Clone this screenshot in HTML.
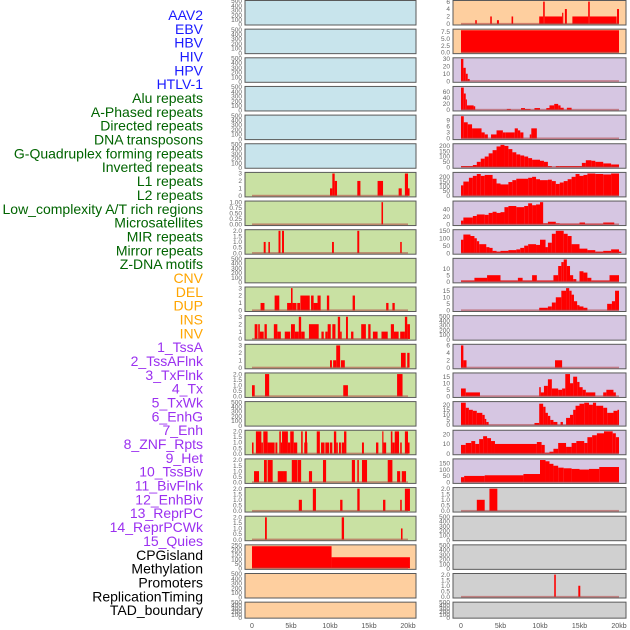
<!DOCTYPE html>
<html><head><meta charset="utf-8">
<style>
html,body{margin:0;padding:0;background:#fff;}
svg{display:block;font-family:"Liberation Sans",sans-serif;}
</style></head>
<body>
<svg id="chart" width="630" height="630" viewBox="0 0 630 630" xmlns="http://www.w3.org/2000/svg"></svg>
<script>
const labelNames=["AAV2","EBV","HBV","HIV","HPV","HTLV-1","Alu repeats","A-Phased repeats","Directed repeats","DNA transposons","G-Quadruplex forming repeats","Inverted repeats","L1 repeats","L2 repeats","Low_complexity A/T rich regions","Microsatellites","MIR repeats","Mirror repeats","Z-DNA motifs","CNV","DEL","DUP","INS","INV","1_TssA","2_TssAFlnk","3_TxFlnk","4_Tx","5_TxWk","6_EnhG","7_Enh","8_ZNF_Rpts","9_Het","10_TssBiv","11_BivFlnk","12_EnhBiv","13_ReprPC","14_ReprPCWk","15_Quies","CPGisland","Methylation","Promoters","ReplicationTiming","TAD_boundary"];
const xTickLabels=["0","5kb","10kb","15kb","20kb"];
const xTickValues=[0,5,10,15,20];
const emptyTicks=["0","100","200","300","400","500"];
const t3=["0","1","2","3"];
const t2=["0.0","0.5","1.0","1.5","2.0"];
// left column segments [startKb,endKb,value]
const L6=[[10,10.3,1],[10.3,10.6,3],[10.6,10.9,2],[13.5,13.9,2],[16.1,16.8,2],[18.8,19.2,1],[19.6,20,3],[20,20.2,1]];
const L7=[[16.6,16.8,1]];
const L7t=["0.00","0.25","0.50","0.75","1.00"];
const L8=[[1.5,1.75,1],[2.1,2.3,1],[3.4,3.65,2],[3.85,4.1,2],[10.26,10.5,1],[13.5,13.75,2],[19,19.2,1]];
const L10=[[1.1,1.6,1],[2.9,3.5,2],[4.5,5,1],[5,5.2,3],[5.2,5.7,1],[5.8,6.16,1],[6.2,7.4,2],[7.57,7.9,2],[7.9,8.4,1],[8.4,8.8,2],[9.6,9.9,2],[12.9,13.2,2],[17.2,17.5,1],[18,18.3,1]];
const L11=[[0.34,0.7,2],[0.8,1,2],[1,1.5,1],[1.6,1.9,2],[2.8,3.25,2],[3.25,3.7,1],[4.2,4.9,1],[5,5.5,2],[5.5,6,1],[6,6.3,3],[6.3,6.75,1],[7.3,8.55,2],[8.9,9.2,1],[9.4,9.7,1],[9.7,10.1,2],[10.3,10.7,2],[11,11.3,3],[11.3,11.5,1],[12.05,12.3,3],[12.7,13,1],[14,14.6,2],[14.9,15.2,2],[15.5,16.1,1],[16.6,17.4,1],[17.8,18.2,2],[18.2,18.8,1],[19,19.6,1],[19.6,19.9,3],[19.9,20.25,2]];
const L12=[[10,10.25,1],[10.4,10.8,1],[10.8,11.3,3],[11.4,11.9,1],[19.1,19.7,2],[19.9,20.2,2]];
const L13=[[0,0.35,1],[1.67,2.2,2],[11.7,12.3,1],[18.6,19.3,2]];
const L15=[[0,0.2,1],[0.5,1.2,2],[1.2,1.4,1],[1.45,2,2],[2,2.9,1],[3,3.25,1],[3.5,3.7,2],[3.7,3.85,1],[3.85,4.6,2],[4.6,4.9,1],[4.9,5.35,2],[5.35,5.8,1],[6.3,6.5,2],[6.7,7.1,1],[6.8,7.05,2],[8.3,8.7,2],[8.85,9.3,1],[9.4,9.9,1],[10,10.3,1],[10.5,10.8,2],[10.8,11,1],[11.15,11.4,1],[11.5,11.8,1],[11.8,12.1,2],[14.1,14.35,1],[15.9,16.2,1],[16.7,16.85,2],[16.85,17.2,1],[17.8,18,2],[18,18.3,1],[18.3,18.85,2],[19,19.2,1],[19.6,20,2],[20,20.2,1]];
const L16=[[0.26,0.9,1],[1.54,1.9,2],[2,2.65,2],[3.3,4.1,1],[4.1,4.45,1],[5.1,5.8,2],[5.85,6.3,2],[7.3,7.7,1],[9.1,9.5,2],[12.8,13.2,2],[13.5,13.7,2],[14.1,14.75,2],[17.4,18,2],[18.6,19,1],[19.2,19.75,1]];
const L17=[[6,6.4,1],[7.8,8.2,2],[11.3,11.6,1],[13.5,13.8,2],[16.8,17.1,1],[19,19.2,1],[19.6,20.25,2]];
const L18=[[1.67,1.9,2],[11.5,11.8,2],[19.1,19.3,1]];
const L19=[[0,10.2,240],[10.2,20.25,120]];
const L19t=["0","50","100","150","200","250"];
// right column
const R0=[[1.8,2,1],[3.7,3.9,2],[4.55,4.8,1],[6.4,6.6,2],[9.9,10.4,2],[10.4,10.6,6],[10.6,12.8,2],[12.8,12.95,3],[13.15,13.4,4],[14.1,16.1,2],[16.1,16.3,6],[16.3,19.7,2],[19.75,20,4]];
const R0t=["0","2","4","6"];
const R1=[[0,20,8]];
const R1t=["0.0","2.5","5.0","7.5"];
const R2=[[0,0.3,30],[0.3,0.6,18],[0.6,0.85,10],[0.85,1.1,3]];
const R2t=["0","10","20","30"];
const R3=[[0,0.35,75],[0.35,0.6,55],[0.6,0.75,35],[0.75,1.6,15],[1.6,1.8,12],[5.8,6.3,3],[7.6,8.1,6],[8.1,8.8,3],[9.3,10,6],[10.8,11.2,6],[11.2,11.8,15],[11.8,12.3,20],[12.3,12.6,15],[12.6,13,7],[13.4,14,7]];
const R3t=["0","20","40","60"];
const R4=[[0,0.35,11],[0.35,0.85,8],[0.85,1.4,7],[1.4,2.6,5],[2.6,3,3],[3,3.4,2],[3.8,4.5,2],[4.5,5.3,4],[5.3,5.6,3],[5.6,6.8,3],[6.8,7.2,5],[7.2,7.5,4],[7.5,7.9,3],[8.7,8.9,2],[8.9,9.6,5]];
const R4t=["0","3","6","9"];
const R5=[[0,1.5,10],[1.5,2,20],[2,2.5,50],[2.5,3,80],[3,3.5,100],[3.5,4,130],[4,4.5,160],[4.5,5,195],[5,5.5,210],[5.5,6,200],[6,6.5,170],[6.5,7,140],[7,7.5,120],[7.5,8,110],[8,8.5,100],[8.5,9,85],[9,10,70],[10,10.5,60],[10.5,11,50],[11,11.5,10],[12,12.5,10],[12.5,15.3,10],[15.3,15.8,40],[15.8,16.5,65],[16.5,17,60],[17,18,50],[18,19,35],[19,20,25]];
const R5t=["0","50","100","150","200"];
const R6=[[0,0.3,110],[0.3,1,150],[1,1.5,190],[1.5,2,210],[2,2.5,230],[2.5,3,210],[3,4,220],[4,4.5,180],[4.5,5,130],[5,6,120],[6,6.5,145],[6.5,7,165],[7,8.5,180],[8.5,9,190],[9,9.5,200],[9.5,10,175],[10,11,165],[11,11.5,170],[11.5,12,155],[12,12.5,125],[12.5,13,140],[13,13.5,155],[13.5,14,175],[14,14.5,200],[14.5,15,230],[15,15.5,210],[15.5,16,220],[16,17,235],[17,18,230],[18,19,225],[19,20,235]];
const R6t=["0","50","100","150","200"];
const R7=[[0,0.3,10],[0.3,1.5,18],[1.5,2,22],[2,3,26],[3,3.5,25],[3.5,4,30],[4,4.5,33],[4.5,5,30],[5,5.5,32],[5.5,6,45],[6,7,48],[7,8,45],[8,8.5,48],[8.5,9,55],[9,9.5,50],[9.5,10,52],[10,10.4,58],[10.4,11,3],[11,12,7],[12,12.5,3],[12.5,15,2],[15,15.7,5],[15.7,18,2],[18,19.4,5]];
const R7t=["0","20","40"];
const R8=[[0,0.3,90],[0.3,1.2,125],[1.2,1.7,115],[1.7,2,100],[2,2.3,80],[2.3,3.2,60],[3.2,3.6,40],[3.6,4,35],[4,4.5,15],[4.5,5,10],[5,6,15],[6,7,20],[7,7.5,25],[7.5,8,35],[8,8.5,50],[8.5,9.5,60],[9.5,10,55],[10,10.7,90],[10.7,11,40],[11,11.5,70],[11.5,12,130],[12,13,150],[13,13.5,130],[13.5,14,115],[14,15,60],[15,16,30],[16,17,20],[17,18,10],[18,19,15],[19,20,25],[20,20.3,10]];
const R8t=["0","50","100","150"];
const R9=[[0,1.7,1],[1.7,3.3,3],[3.3,5,5],[5,7.2,1],[7.2,7.8,3],[7.8,9,1],[9,9.6,5],[9.6,11.7,1],[11.7,12.3,5],[12.3,12.7,12],[12.7,13,15],[13,13.4,17],[13.4,13.8,12],[13.8,14.2,5],[14.2,14.6,2],[15,15.5,8],[15.5,16,7],[16,16.5,3],[16.5,18.8,1],[18.8,20,5]];
const R9t=["0","5","10"];
const R10=[[9.9,11,2],[11,11.5,3],[11.5,12,6],[12,12.7,10],[12.7,13.3,15],[13.3,13.7,17],[13.7,14,15],[14,14.3,12],[14.3,14.7,7],[14.7,15,4],[15,15.5,3],[15.5,16,2],[18.5,19.1,5],[19.1,19.5,7],[19.5,20,15]];
const R10t=["0","5","10","15"];
const R12=[[0,0.3,6],[0.3,0.7,2],[11.9,12.8,2]];
const R12t=["0","2","4","6"];
const R13=[[0,0.6,6],[0.6,2.4,3],[9.9,10.1,7],[10.1,10.5,3],[10.5,11,8],[11,11.5,13],[11.5,12.3,6],[12.3,12.8,5],[12.8,13.2,6],[13.2,13.8,17],[13.8,14.2,10],[14.2,14.7,15],[14.7,15,11],[15,15.4,7],[15.4,15.8,5],[15.8,17,3],[18,18.4,3],[18.4,19.3,5],[19.3,19.6,3]];
const R13t=["0","5","10","15"];
const R14=[[0,0.6,22],[0.6,1,17],[1,1.5,15],[1.5,2,14],[2,2.7,12],[2.7,3,10],[3,3.2,6],[3.2,3.5,3],[9.3,9.9,2],[9.9,10.4,21],[10.4,10.7,18],[10.7,11,12],[11,11.3,9],[11.3,11.7,5],[11.7,12.2,3],[12.6,12.9,3],[13.3,13.8,7],[13.8,14.2,10],[14.2,14.5,15],[14.5,15,19],[15,15.6,21],[15.6,16.2,22],[16.2,16.7,20],[16.7,17.1,22],[17.1,18,19],[18,18.5,17],[18.5,19.3,12],[19.3,19.8,14],[19.8,20,15]];
const R14t=["0","5","10","15","20"];
const R15=[[0,0.6,9],[0.6,1.3,11],[1.3,1.8,13],[1.8,2.3,10],[2.3,2.8,15],[2.8,3.3,18],[3.3,3.8,16],[3.8,4.3,13],[4.3,9.6,10],[9.6,10.2,12],[10.2,10.6,9],[10.6,11.2,1],[11.2,11.7,2],[11.7,12.3,5],[12.3,13.3,11],[13.3,14,7],[14,14.6,11],[14.6,15.6,13],[15.6,16,11],[16,16.6,17],[16.6,17.2,19],[17.2,18.1,21],[18.1,19.2,23],[19.2,19.6,21],[19.6,20,17]];
const R15t=["0","10","20"];
const R16=[[0,0.4,40],[0.4,3,50],[3,7.9,55],[7.9,10,65],[10,10.7,175],[10.7,11.2,165],[11.2,11.7,145],[11.7,12.3,130],[12.3,13,115],[13,14,110],[14,15,105],[15,16.2,100],[16.2,17.5,105],[17.5,20,120]];
const R16t=["0","50","100","150"];
const R17=[[2,3,1],[3.6,4.6,2]];
const R20=[[11.8,12,2],[14.85,15.1,1]];

const BLUE="#c8e4ec",GREEN="#c9e1a3",ORANGE="#fecf9f",PURPLE="#d6c6e2",GREY="#d0d0d0";
const leftPanels=[[null,emptyTicks,BLUE],[null,emptyTicks,BLUE],[null,emptyTicks,BLUE],[null,emptyTicks,BLUE],[null,emptyTicks,BLUE],[null,emptyTicks,BLUE],
[L6,t3,GREEN],[L7,L7t,GREEN],[L8,t2,GREEN],[null,emptyTicks,GREEN],[L10,t3,GREEN],[L11,t3,GREEN],[L12,t3,GREEN],[L13,t2,GREEN],[null,emptyTicks,GREEN],[L15,t2,GREEN],[L16,t2,GREEN],[L17,t2,GREEN],[L18,t2,GREEN],
[L19,L19t,ORANGE],[null,emptyTicks,ORANGE],[null,emptyTicks,ORANGE]];
const rightPanels=[[R0,R0t,ORANGE],[R1,R1t,ORANGE],[R2,R2t,PURPLE],[R3,R3t,PURPLE],[R4,R4t,PURPLE],[R5,R5t,PURPLE],[R6,R6t,PURPLE],[R7,R7t,PURPLE],[R8,R8t,PURPLE],[R9,R9t,PURPLE],[R10,R10t,PURPLE],[null,emptyTicks,PURPLE],[R12,R12t,PURPLE],[R13,R13t,PURPLE],[R14,R14t,PURPLE],[R15,R15t,PURPLE],[R16,R16t,PURPLE],
[R17,t2,GREY],[null,emptyTicks,GREY],[null,emptyTicks,GREY],[R20,t2,GREY],[null,emptyTicks,GREY]];

const NS="http://www.w3.org/2000/svg";
const svg=document.getElementById('chart');
function mk(tag,attrs,parent){const e=document.createElementNS(NS,tag);for(const k in attrs)e.setAttribute(k,attrs[k]);(parent||svg).appendChild(e);return e;}

function labelColor(i){if(i<6)return"#1a1aff";if(i<19)return"#006400";if(i<24)return"#ffa500";if(i<39)return"#9b30f0";return"#000";}
labelNames.forEach((n,i)=>{
  const t=mk('text',{x:203,y:20+i*13.84,'text-anchor':'end','font-size':14,fill:labelColor(i)});
  
  
  t.textContent=n;
});

function drawPanel(p,i,col){
  const segs=p[0],ticks=p[1],bg=p[2];
  const px0=col===0?245:453, pw=col===0?171:173;
  const kb0=col===0?252:461, kbScale=col===0?7.8:7.9;
  const top=i*28.65+0.5, h=i===21?16:24.5;
  const g=mk('g',{});
  
  
  const bgR=mk('rect',{x:px0,y:top,width:pw,height:h,fill:bg,stroke:'#5a5a5a','stroke-width':1},g);
  
  
  const tickVals=ticks.map(parseFloat);
  const lastTick=tickVals[tickVals.length-1];
  let dmax=0; if(segs) segs.forEach(s=>{if(s[2]>dmax)dmax=s[2];});
  let ymax,ymin;
  if(segs){ymax=Math.max(dmax*1.05,lastTick*1.02);ymin=-0.05*dmax;}
  else{ymax=lastTick*1.02;ymin=-lastTick*0.02;}
  const ys=v=>top+h-(v-ymin)/(ymax-ymin)*h;
  const xs=k=>kb0+k*kbScale;
  ticks.forEach((lab,j)=>{
    const t=mk('text',{x:px0-3,y:ys(tickVals[j])+2.2,'text-anchor':'end','font-size':6.5,fill:'#666'},g);
    
    
    t.textContent=lab;
  });
  if(segs){
    segs.forEach(s=>{
      const y1=ys(s[2]),y0=ys(0);
      const r=mk('rect',{x:xs(s[0]),y:y1,width:Math.max(0.8,xs(s[1])-xs(s[0])),height:Math.max(0,y0-y1),fill:'#ff0000'},g);
      
      
    });
    const bl=mk('rect',{x:xs(0),y:ys(0)-1,width:20*kbScale,height:1.6,fill:'#b04040','fill-opacity':0.55},g);
    
    
  }
}
leftPanels.forEach((p,i)=>drawPanel(p,i,0));
rightPanels.forEach((p,i)=>drawPanel(p,i,1));
[0,1].forEach(col=>{
  const kb0=col===0?252:461, kbScale=col===0?7.8:7.9;
  xTickValues.forEach((v,j)=>{
    const t=mk('text',{x:kb0+v*kbScale,y:628,'text-anchor':'middle','font-size':7,fill:'#555'});
    
    
    t.textContent=xTickLabels[j];
  });
});
</script>
</body></html>
